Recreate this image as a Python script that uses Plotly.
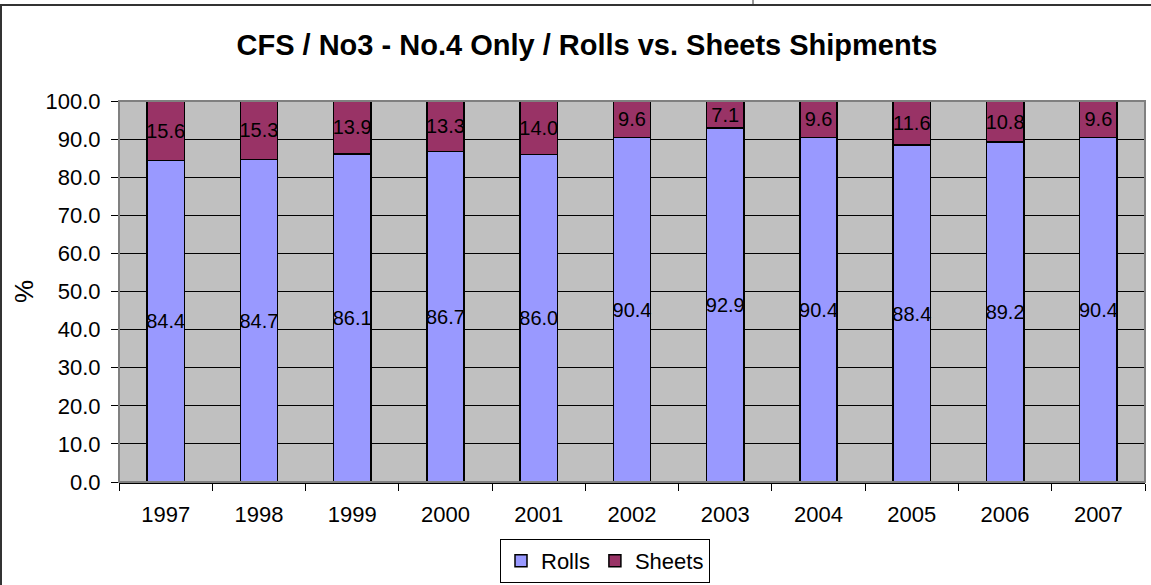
import plotly.graph_objects as go

# Data
years = ["1997", "1998", "1999", "2000", "2001", "2002", "2003", "2004", "2005", "2006", "2007"]
rolls = [84.4, 84.7, 86.1, 86.7, 86.0, 90.4, 92.9, 90.4, 88.4, 89.2, 90.4]
sheets = [15.6, 15.3, 13.9, 13.3, 14.0, 9.6, 7.1, 9.6, 11.6, 10.8, 9.6]

W, H = 1151, 585
L, R, T, B = 119, 6, 101, 103
pw, ph = W - L - R, H - T - B

FONT = "Liberation Sans, Arial"

fig = go.Figure()

label_font = dict(color="black", size=20, family=FONT)
fig.add_trace(go.Bar(
    x=years, y=rolls, name="Rolls",
    marker=dict(color="#9999FF", line=dict(color="black", width=1.5)),
    text=[f"{v:.1f}" for v in rolls],
    textposition="inside", insidetextanchor="middle", textangle=0,
    constraintext="none", textfont=label_font, cliponaxis=False,
))
fig.add_trace(go.Bar(
    x=years, y=sheets, name="Sheets",
    marker=dict(color="#993366", line=dict(color="black", width=1.5)),
    text=[f"{v:.1f}" for v in sheets],
    textposition="inside", insidetextanchor="middle", textangle=0,
    constraintext="none", textfont=label_font, cliponaxis=False,
))

# px -> paper helpers for the decorative frame
def px(x):
    return (x - L) / pw

def py(y):
    return (H - B - y) / ph

frame = dict(color="#333333", width=2)
shapes = [
    dict(type="line", xref="paper", yref="paper", x0=px(0), x1=px(W), y0=py(5), y1=py(5), line=frame),
    dict(type="line", xref="paper", yref="paper", x0=px(1), x1=px(1), y0=py(5), y1=py(H), line=frame),
    dict(type="line", xref="paper", yref="paper", x0=px(753), x1=px(753), y0=py(0), y1=py(5), line=dict(color="#333333", width=1)),
    # plot area border
    dict(type="rect", xref="paper", yref="paper", x0=0, x1=1, y0=0, y1=1,
         line=dict(color="#808080", width=2), layer="above"),
]

fig.update_layout(
    width=W, height=H, autosize=False,
    barmode="stack", bargap=0.6,
    paper_bgcolor="white", plot_bgcolor="#C0C0C0",
    margin=dict(l=L, r=R, t=T, b=B, autoexpand=False),
    font=dict(family=FONT, color="black", size=22),
    title=dict(
        text="<b>CFS / No3 - No.4 Only / Rolls vs. Sheets Shipments</b>",
        x=587 / W, xanchor="center", y=1 - 45 / H, yanchor="middle",
        yref="container", font=dict(size=29),
    ),
    legend=dict(
        orientation="h", x=px(605), xanchor="center",
        y=py(561), yanchor="middle",
        bordercolor="black", borderwidth=1, bgcolor="white",
        font=dict(size=22), traceorder="normal",
        itemwidth=30, tracegroupgap=0,
    ),
    shapes=shapes,
)

# y axis title as rotated annotation
fig.add_annotation(
    text="%", xref="paper", yref="paper", x=px(24), y=py(292),
    xanchor="center", yanchor="middle", textangle=-90,
    showarrow=False, font=dict(size=26),
)

fig.update_yaxes(
    range=[0, 100], dtick=10, tickformat=".1f",
    ticks="outside", ticklen=7, tickcolor="black",
    showgrid=True, gridcolor="black", gridwidth=1,
    showline=False,
    zeroline=False, automargin=False, ticklabelstandoff=6,
)
fig.update_xaxes(
    ticks="outside", tickson="boundaries", ticklen=7, tickcolor="black",
    showline=True, linecolor="black", linewidth=1.5,
    showgrid=False, tickangle=0, automargin=False, ticklabelstandoff=12,
)

fig.write_html("out.html", config={"displayModeBar": False},
               post_script="document.body.style.margin='0';")
